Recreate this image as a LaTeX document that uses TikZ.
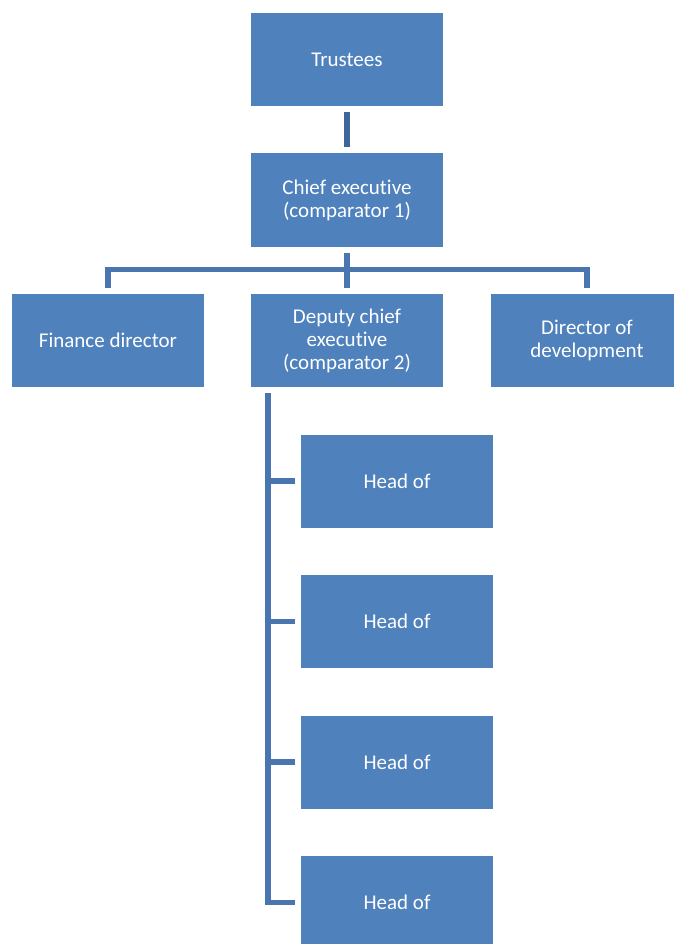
\documentclass[tikz,border=0pt]{standalone}
\usepackage{fontspec}
\setmainfont{Carlito}[Ligatures=NoCommon]
\definecolor{boxblue}{HTML}{4F81BD}
\definecolor{linkblue}{HTML}{4A76AF}
\definecolor{topblue}{HTML}{3D679A}
\begin{document}
\begin{tikzpicture}[x=1pt,y=-1pt,
  orgbox/.style={fill=boxblue, draw=none, text=white, minimum width=192pt, minimum height=93pt,
    align=center, inner sep=0pt, font=\fontsize{21}{23}\selectfont},
  link/.style={draw=linkblue, line width=5.5pt},
  toplink/.style={draw=topblue, line width=6pt}]
  \useasboundingbox (0,0) rectangle (673,944);
  % boxes
  \node[orgbox] (trustees) at (347,59.5) {Trustees};
  \node[orgbox] (ceo) at (347,200) {Chief executive\\(comparator 1)};
  \node[orgbox] (fin) at (108,340.5) {Finance director};
  \node[orgbox] (dep) at (347,340.5) {Deputy chief\\executive\\(comparator 2)};
  \node[orgbox] (dev) at (587,340.5) {Director of\\development};
  \node[orgbox] (h1) at (397,481) {Head of};
  \node[orgbox] (h2) at (397,621.5) {Head of};
  \node[orgbox] (h3) at (397,762) {Head of};
  \node[orgbox] (h4) at (397,902.5) {Head of};
  % connectors (shifts are in page direction: positive = upwards)
  \draw[toplink] ([yshift=-6]trustees.south) -- ([yshift=6]ceo.north);
  \draw[link] ([yshift=-6]ceo.south) -- ([yshift=6]dep.north);
  \coordinate (bus) at ([yshift=-23]ceo.south);
  \draw[link] ([yshift=6]fin.north) |- (bus) -| ([yshift=6]dev.north);
  \coordinate (spine) at ([xshift=17,yshift=-6]dep.south west);
  \draw[link] (spine) |- ([xshift=-6]h4.west);
  \foreach \h in {h1,h2,h3}
    \draw[link] (spine |- \h.west) -- ([xshift=-6]\h.west);
\end{tikzpicture}
\end{document}
